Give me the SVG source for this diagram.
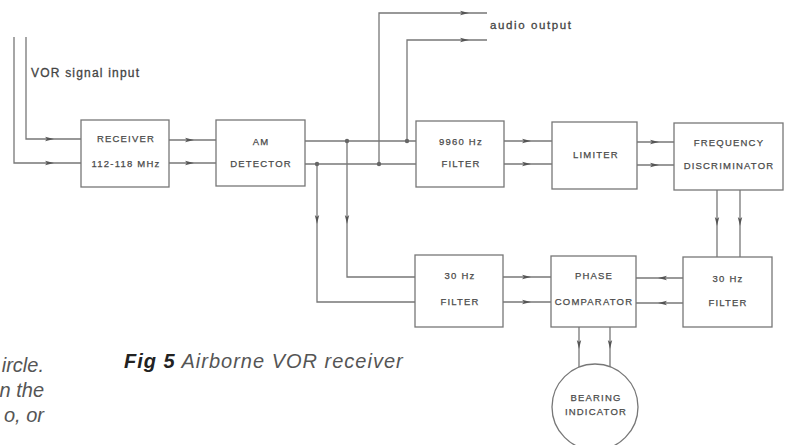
<svg xmlns="http://www.w3.org/2000/svg" xmlns:xlink="http://www.w3.org/1999/xlink" width="789" height="445" viewBox="0 0 789 445">
<style>
.box{fill:#fff;stroke:#777;stroke-width:1.3}
.w{fill:none;stroke:#777;stroke-width:1.3}
.lbl{font-family:"Liberation Sans",Arial,sans-serif;font-size:9.5px;letter-spacing:1.2px;fill:#4a4a4a;stroke:#4a4a4a;stroke-width:0.25;text-anchor:middle}
.dot{fill:#666}
.ar{fill:#555}
.note{font-family:"Liberation Sans",Arial,sans-serif;fill:#444;stroke:#444;stroke-width:0.3}
.cap{font-family:"Liberation Sans",Arial,sans-serif;font-style:italic;fill:#555}
</style>
<defs>
<path id="a" d="M-5,-2.2 L4,0 L-5,2.2 L-3,0 Z"/>
</defs>
<rect width="789" height="445" fill="#fff"/>

<g id="connectors">
<polyline class="w" points="26,37 26,139 81,139"/>
<polyline class="w" points="14,37 14,163 81,163"/>
<line class="w" x1="169" y1="140" x2="216" y2="140"/>
<line class="w" x1="169" y1="163" x2="216" y2="163"/>
<line class="w" x1="305" y1="141" x2="416" y2="141"/>
<line class="w" x1="305" y1="164" x2="416" y2="164"/>
<polyline class="w" points="379,164 379,13 487,13"/>
<polyline class="w" points="407,141 407,40 487,40"/>
<polyline class="w" points="317,164 317,302 415,302"/>
<polyline class="w" points="347,141 347,277 415,277"/>
<line class="w" x1="504" y1="141" x2="552" y2="141"/>
<line class="w" x1="504" y1="164" x2="552" y2="164"/>
<line class="w" x1="637" y1="142" x2="674" y2="142"/>
<line class="w" x1="637" y1="165" x2="674" y2="165"/>
<line class="w" x1="717" y1="190" x2="717" y2="257"/>
<line class="w" x1="740" y1="190" x2="740" y2="257"/>
<line class="w" x1="503" y1="277" x2="551" y2="277"/>
<line class="w" x1="503" y1="302" x2="551" y2="302"/>
<line class="w" x1="683" y1="278" x2="636" y2="278"/>
<line class="w" x1="683" y1="303" x2="636" y2="303"/>
<line class="w" x1="579" y1="327" x2="579" y2="368"/>
<line class="w" x1="610" y1="327" x2="610" y2="369"/>
<circle class="dot" cx="347" cy="141" r="2.2"/>
<circle class="dot" cx="407" cy="141" r="2.2"/>
<circle class="dot" cx="317" cy="164" r="2.2"/>
<circle class="dot" cx="379" cy="164" r="2.2"/>
<use class="ar" xlink:href="#a" transform="translate(50,139)"/>
<use class="ar" xlink:href="#a" transform="translate(50,163)"/>
<use class="ar" xlink:href="#a" transform="translate(190,140)"/>
<use class="ar" xlink:href="#a" transform="translate(190,163)"/>
<use class="ar" xlink:href="#a" transform="translate(465,13)"/>
<use class="ar" xlink:href="#a" transform="translate(465,40)"/>
<use class="ar" xlink:href="#a" transform="translate(317,220) rotate(90)"/>
<use class="ar" xlink:href="#a" transform="translate(347,220) rotate(90)"/>
<use class="ar" xlink:href="#a" transform="translate(527,141)"/>
<use class="ar" xlink:href="#a" transform="translate(527,164)"/>
<use class="ar" xlink:href="#a" transform="translate(655,142)"/>
<use class="ar" xlink:href="#a" transform="translate(655,165)"/>
<use class="ar" xlink:href="#a" transform="translate(717,222) rotate(90)"/>
<use class="ar" xlink:href="#a" transform="translate(740,222) rotate(90)"/>
<use class="ar" xlink:href="#a" transform="translate(527,277)"/>
<use class="ar" xlink:href="#a" transform="translate(527,302)"/>
<use class="ar" xlink:href="#a" transform="translate(662,278) rotate(180)"/>
<use class="ar" xlink:href="#a" transform="translate(662,303) rotate(180)"/>
<use class="ar" xlink:href="#a" transform="translate(579,345) rotate(90)"/>
<use class="ar" xlink:href="#a" transform="translate(610,345) rotate(90)"/>
</g>

<text class="note" x="31" y="77" font-size="12" letter-spacing="1.2">VOR signal input</text>
<text class="note" x="490" y="29" font-size="11.5" letter-spacing="1.6">audio output</text>

<g id="receiver">
<rect class="box" x="81" y="120" width="88" height="67"/>
<text class="lbl" x="126" y="142">RECEIVER</text>
<text class="lbl" x="126" y="167" letter-spacing="1">112-118 MHz</text>
</g>
<g id="am-detector">
<rect class="box" x="216" y="120" width="89" height="66"/>
<text class="lbl" x="261" y="145">AM</text>
<text class="lbl" x="261" y="167">DETECTOR</text>
</g>
<g id="filter-9960">
<rect class="box" x="416" y="121" width="88" height="66"/>
<text class="lbl" x="461" y="145">9960 Hz</text>
<text class="lbl" x="461" y="167">FILTER</text>
</g>
<g id="limiter">
<rect class="box" x="552" y="122" width="85" height="67"/>
<text class="lbl" x="596" y="158">LIMITER</text>
</g>
<g id="freq-discriminator">
<rect class="box" x="674" y="123" width="109" height="67"/>
<text class="lbl" x="729" y="146">FREQUENCY</text>
<text class="lbl" x="729" y="169">DISCRIMINATOR</text>
</g>
<g id="filter-30-left">
<rect class="box" x="415" y="255" width="88" height="72"/>
<text class="lbl" x="460" y="279">30 Hz</text>
<text class="lbl" x="460" y="305">FILTER</text>
</g>
<g id="phase-comparator">
<rect class="box" x="551" y="256" width="85" height="71"/>
<text class="lbl" x="594" y="279">PHASE</text>
<text class="lbl" x="594" y="305" letter-spacing="1.1">COMPARATOR</text>
</g>
<g id="filter-30-right">
<rect class="box" x="683" y="257" width="89" height="70"/>
<text class="lbl" x="728" y="282">30 Hz</text>
<text class="lbl" x="728" y="306">FILTER</text>
</g>
<g id="bearing-indicator">
<circle class="box" cx="595" cy="407" r="43"/>
<text class="lbl" x="596" y="401">BEARING</text>
<text class="lbl" x="596" y="415">INDICATOR</text>
</g>

<text class="cap" x="124" y="368" font-size="20" letter-spacing="1"><tspan font-weight="bold" fill="#222">Fig 5</tspan> Airborne VOR receiver</text>
<g class="cap" font-size="20" text-anchor="end">
<text x="44" y="372">ircle.</text>
<text x="44" y="397">n the</text>
<text x="44" y="422">o, or</text>
</g>
</svg>
